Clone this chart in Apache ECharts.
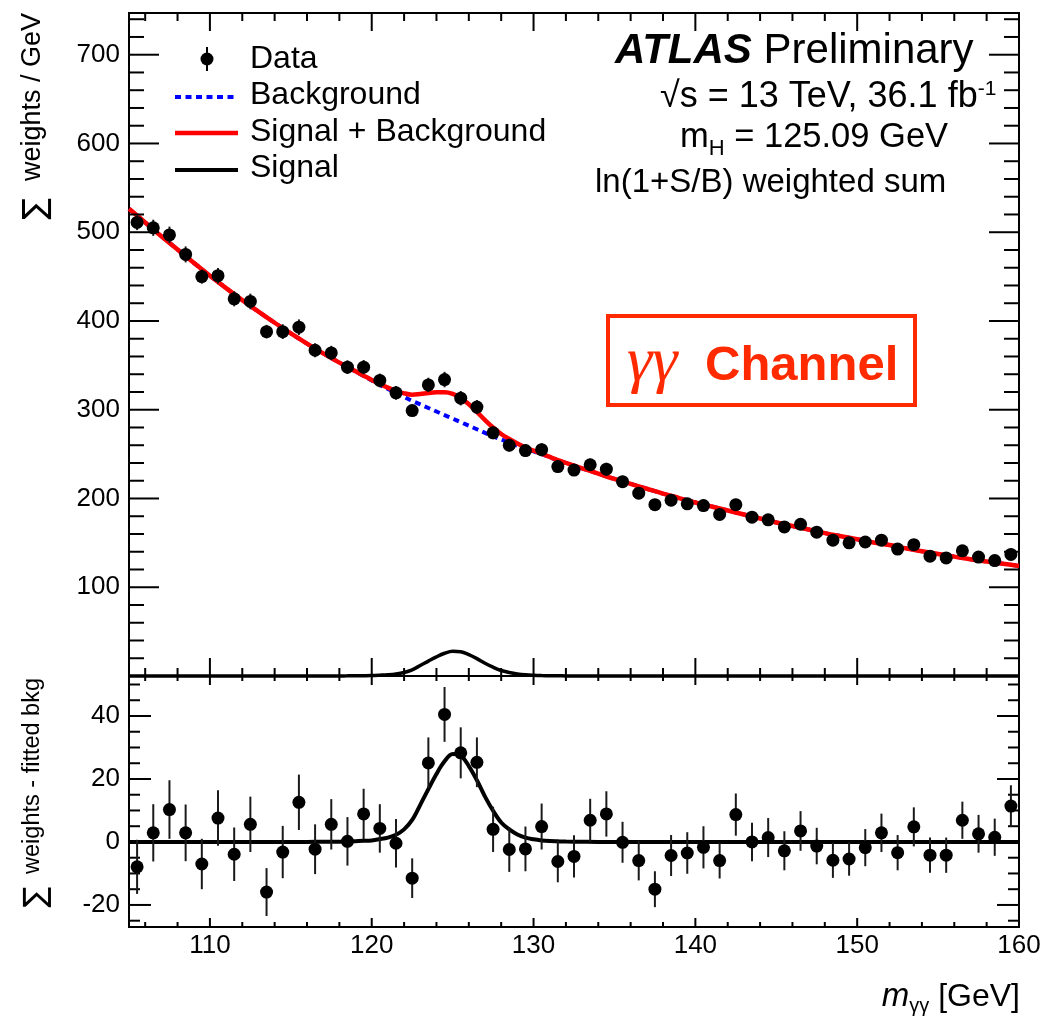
<!DOCTYPE html>
<html><head><meta charset="utf-8">
<script src="https://cdn.jsdelivr.net/npm/echarts@6/dist/echarts.min.js"></script>
<style>html,body{margin:0;padding:0;background:#fff}#c{width:1044px;height:1017px}</style>
</head><body><div id="c"></div><script>
// ---------------- data ----------------
const binCenters = [105.5,106.5,107.5,108.5,109.5,110.5,111.5,112.5,113.5,114.5,115.5,116.5,117.5,118.5,119.5,120.5,121.5,122.5,123.5,124.5,125.5,126.5,127.5,128.5,129.5,130.5,131.5,132.5,133.5,134.5,135.5,136.5,137.5,138.5,139.5,140.5,141.5,142.5,143.5,144.5,145.5,146.5,147.5,148.5,149.5,150.5,151.5,152.5,153.5,154.5,155.5,156.5,157.5,158.5,159.5];
const dataValues = [511,505,497,475,450,451,425,422,388,388,393,367,364,348,348,333,319,299,328,334,313,303,274,260,254,255,236,232,238,233,219,206,193,198,194,192,182,193,179,176,168,171,162,153,150,151,153,143,148,135,133,141,134,130,137];
const residuals = [-7.9,2.9,10.3,2.9,-7.0,7.6,-3.9,5.6,-15.9,-3.2,12.6,-2.3,5.6,0.2,8.9,4.3,-0.4,-11.5,25.1,40.5,28.3,25.3,4.0,-2.4,-2.2,4.9,-6.2,-4.6,6.9,8.9,-0.1,-5.9,-15.0,-4.3,-3.5,-1.7,-5.9,8.7,0.0,1.4,-2.8,3.5,-1.3,-5.8,-5.4,-1.8,2.9,-3.4,4.8,-4.2,-4.2,6.9,2.6,1.5,11.4];
const errors = [8.6,9.1,9.3,9.0,8.0,8.8,8.5,8.8,7.6,8.3,8.8,7.9,8.0,7.7,8.0,7.7,7.7,6.3,8.1,8.7,8.1,7.9,7.2,7.1,7.1,7.3,6.6,6.7,6.8,7.2,6.5,6.3,5.7,6.5,6.6,6.7,5.7,6.7,6.1,6.2,6.2,6.3,5.8,5.6,5.3,5.9,6.1,5.6,6.2,5.6,5.6,5.9,6.0,5.9,6.6];
const curveMass = [105,106,107,108,109,110,111,112,113,114,115,116,117,118,118.5,119,119.5,120,120.5,121,121.5,122,122.5,123,123.5,124,124.5,125,125.5,126,126.5,127,127.5,128,128.5,129,129.5,130,130.5,131,131.5,132,133,134,135,136,137,138,139,140,141,142,143,144,145,146,147,148,149,150,151,152,153,154,155,156,157,158,159,160];
const bkgCurve = [526.5,511,495.5,480.5,465.5,451,437,423.5,410.5,398,386,374.5,363.5,353,348,343,338,333,328,323.5,319,314.5,310,306,302,298,294,290,286,282,278,274,270,266.5,263,259.5,256,253,250,246.5,243,240,234,228,222,216.5,211,205.5,200.5,195.5,191,186.5,182,177.5,173,169,165,161,157.5,154,150.5,147.5,144,140.5,137.5,134.5,131.5,129,126.5,124];
const sigCurve = [0,0,0,0,0,0,0,0,0,0,0,0.02,0.05,0.1,0.15,0.25,0.35,0.5,0.9,1.4,2.3,4.0,7.0,11.8,16.8,21.6,25.6,27.9,27.4,24.1,19.6,14.4,9.9,6.2,4.0,2.4,1.4,0.85,0.5,0.3,0.2,0.12,0.05,0,0,0,0,0,0,0,0,0,0,0,0,0,0,0,0,0,0,0,0,0,0,0,0,0,0,0];
const xTickLabels = ['110','120','130','140','150','160'];
const yTopLabels = ['100','200','300','400','500','600','700'];
const yBotLabels = ['-20','0','20','40'];
const xMajorTicks = [110,120,130,140,150,160];
const xMinorTicks = [106,108,112,114,116,118,122,124,126,128,132,134,136,138,142,144,146,148,152,154,156,158];
const yTopMajorTicks = [100,200,300,400,500,600,700];
const yTopMinorTicks = [20,40,60,80,120,140,160,180,220,240,260,280,320,340,360,380,420,440,460,480,520,540,560,580,620,640,660,680,720,740];
const yBotMajorTicks = [-20,0,20,40];
const yBotMinorTicks = [-25,-15,-10,-5,5,10,15,25,30,35,45,50];

// ---------------- helpers ----------------
const FF = '"Liberation Sans", Arial, Helvetica, sans-serif';
const SERIF = '"Liberation Serif", "Times New Roman", serif';
const mctx = document.createElement('canvas').getContext('2d');
function midOff(font){ mctx.font = font; mctx.textBaseline = 'middle'; const m = mctx.measureText('H'); return (m && typeof m.actualBoundingBoxDescent === 'number') ? m.actualBoundingBoxDescent : 0.33 * parseFloat(font.match(/(\d+(\.\d+)?)px/)[1]); }
function tw(text, font){ mctx.font = font; return mctx.measureText(text).width; }
function txt(x, baseline, text, font, align, color, z){
  align = align || 'left';
  return {type:'text', x:x, y:baseline - midOff(font), z:z||100, silent:true,
    style:{text:text, font:font, fill:color||'#000', align:align, textAlign:align, verticalAlign:'middle', textVerticalAlign:'middle'}};
}
function seq(x0, baseline, pieces, color){
  const out = []; let x = x0;
  pieces.forEach(p => { out.push(txt(x, baseline + (p.dy||0), p.t, p.font, 'left', color)); x += tw(p.t, p.font); });
  return out;
}
function seqWidth(pieces){ return pieces.reduce((s,p)=>s+tw(p.t,p.font),0); }
function rotTxt(x, yEnd, text, font){
  return {type:'text', x:x, y:yEnd, rotation:Math.PI/2, z:100, silent:true,
    style:{text:text, font:font, fill:'#000', align:'right', textAlign:'right', verticalAlign:'middle', textVerticalAlign:'middle'}};
}

function tickSeries(gi, kind, values, len){
  return {type:'custom', xAxisIndex:gi, yAxisIndex:gi, silent:true, clip:false, z:6,
    data: values.map(v=>[v]),
    renderItem: function(params, api){
      const cs = params.coordSys; const v = api.value(0);
      const st = {stroke:'#000', lineWidth:2};
      if (kind === 'x'){
        const px = api.coord([v, 0])[0];
        return {type:'group', children:[
          {type:'line', shape:{x1:px, y1:cs.y+cs.height, x2:px, y2:cs.y+cs.height-len}, style:st},
          {type:'line', shape:{x1:px, y1:cs.y, x2:px, y2:cs.y+len}, style:st}]};
      } else {
        const py = api.coord([130, v])[1];
        return {type:'group', children:[
          {type:'line', shape:{x1:cs.x, y1:py, x2:cs.x+len, y2:py}, style:st},
          {type:'line', shape:{x1:cs.x+cs.width, y1:py, x2:cs.x+cs.width-len, y2:py}, style:st}]};
      }
    }};
}
function errSeries(gi, vals){
  return {type:'custom', xAxisIndex:gi, yAxisIndex:gi, silent:true, z:8,
    data: binCenters.map((x,i)=>[x, vals[i], errors[i]]),
    encode:{x:0, y:1},
    renderItem: function(params, api){
      const x = api.value(0), v = api.value(1), e = api.value(2);
      const p1 = api.coord([x, v-e]), p2 = api.coord([x, v+e]);
      return {type:'line', shape:{x1:p1[0], y1:p1[1], x2:p2[0], y2:p2[1]}, style:{stroke:'#1a1a1a', lineWidth:2}};
    }};
}

const sbCurve = bkgCurve.map((b,i)=>b + sigCurve[i]);
const pairs = (xs, ys) => xs.map((x,i)=>[x, ys[i]]);

const axisCommon = {type:'value', axisLine:{show:false}, axisTick:{show:false}, splitLine:{show:false}};
const labelStyle = {fontSize:26, color:'#000', fontFamily:FF};

// ---------------- graphics (texts, legend, box) ----------------
const g = [];
g.push({type:'line', z:100, shape:{x1:207, y1:47, x2:207, y2:71}, style:{stroke:'#000', lineWidth:2}});
g.push({type:'circle', z:100, shape:{cx:207, cy:59, r:6.5}, style:{fill:'#000'}});
g.push({type:'line', z:100, shape:{x1:175, y1:97, x2:238, y2:97}, style:{stroke:'#0000ff', lineWidth:4, lineDash:[6,4.5]}});
g.push({type:'line', z:100, shape:{x1:175, y1:133, x2:238, y2:133}, style:{stroke:'#ff0000', lineWidth:4.5}});
g.push({type:'line', z:100, shape:{x1:175, y1:170, x2:238, y2:170}, style:{stroke:'#000', lineWidth:4}});
const LF = '32px ' + FF;
g.push(txt(250, 68, 'Data', LF));
g.push(txt(250, 104, 'Background', LF));
g.push(txt(250, 141, 'Signal + Background', LF));
g.push(txt(250, 177, 'Signal', LF));
g.push(...seq(615, 63, [{t:'ATLAS', font:'italic bold 42px '+FF}, {t:' Preliminary', font:'42px '+FF}]));
g.push(...seq(660, 107, [{t:'\u221As = 13 TeV, 36.1 fb', font:'36px '+FF}, {t:'-1', font:'21px '+FF, dy:-12}]));
g.push(...seq(680, 147, [{t:'m', font:'34.5px '+FF}, {t:'H', font:'22px '+FF, dy:8}, {t:' = 125.09 GeV', font:'34.5px '+FF}]));
g.push(txt(595, 192, 'ln(1+S/B) weighted sum', '33px ' + FF));
g.push({type:'rect', z:100, shape:{x:608, y:316, width:307, height:89}, style:{fill:'none', stroke:'#ff2a00', lineWidth:4}});
g.push(txt(627, 380, '\u03B3\u03B3', 'italic 64px ' + SERIF, 'left', '#ff2a00'));
g.push(txt(705, 380, 'Channel', 'bold 49px ' + FF, 'left', '#ff2a00'));
const xt = [{t:'m', font:'italic 33px '+FF}, {t:'\u03B3\u03B3', font:'20px '+FF, dy:6}, {t:' [GeV]', font:'32px '+FF}];
g.push(...seq(1020 - seqWidth(xt), 1006, xt));
g.push(rotTxt(33, 13, 'weights / GeV', '27px ' + FF));
g.push({type:'text', x:37, y:209, rotation:Math.PI/2, z:100, silent:true, style:{text:'\u2211', font:'32px "DejaVu Sans"', fill:'#000', align:'center', textAlign:'center', verticalAlign:'middle', textVerticalAlign:'middle'}});
g.push(rotTxt(33, 678, 'weights - fitted bkg', '23.5px ' + FF));
g.push({type:'text', x:37, y:897, rotation:Math.PI/2, z:100, silent:true, style:{text:'\u2211', font:'31px "DejaVu Sans"', fill:'#000', align:'center', textAlign:'center', verticalAlign:'middle', textVerticalAlign:'middle'}});

// ---------------- chart ----------------
const chart = echarts.init(document.getElementById('c'), null, {renderer:'canvas'});
const lbl = arr => (v => { const s = String(Math.round(v)); return (Math.abs(v-Math.round(v))<1e-6 && arr.includes(s)) ? s : ''; });
chart.setOption({
  animation:false,
  backgroundColor:'#fff',
  textStyle:{fontFamily:FF},
  grid:[
    {left:129, top:13, width:890, height:663, show:true, borderColor:'#000', borderWidth:2, backgroundColor:'transparent'},
    {left:129, top:676, width:890, height:251, show:true, borderColor:'#000', borderWidth:2, backgroundColor:'transparent'}
  ],
  xAxis:[
    Object.assign({}, axisCommon, {gridIndex:0, min:105, max:160, interval:5, axisLabel:{show:false}}),
    Object.assign({}, axisCommon, {gridIndex:1, min:105, max:160, interval:5,
      axisLabel:Object.assign({show:true, margin:6, showMinLabel:true, showMaxLabel:true, formatter:lbl(xTickLabels)}, labelStyle)})
  ],
  yAxis:[
    Object.assign({}, axisCommon, {gridIndex:0, min:0, max:747, interval:100,
      axisLabel:Object.assign({margin:9, formatter:lbl(yTopLabels)}, labelStyle)}),
    Object.assign({}, axisCommon, {gridIndex:1, min:-27, max:52.7, interval:1,
      axisLabel:Object.assign({margin:9, formatter:lbl(yBotLabels)}, labelStyle)})
  ],
  graphic:{elements:g},
  series:[
    tickSeries(0,'x',xMajorTicks,18), tickSeries(0,'x',xMinorTicks,8),
    tickSeries(0,'y',yTopMajorTicks,30), tickSeries(0,'y',yTopMinorTicks,15),
    tickSeries(1,'x',xMajorTicks,9), tickSeries(1,'x',xMinorTicks,5),
    tickSeries(1,'y',yBotMajorTicks,22), tickSeries(1,'y',yBotMinorTicks,11),
    {type:'line', xAxisIndex:0, yAxisIndex:0, data:pairs(curveMass,bkgCurve), showSymbol:false, smooth:0.35, silent:true, z:3,
      lineStyle:{color:'#0000ff', width:4, type:[6,4.5]}},
    {type:'line', xAxisIndex:0, yAxisIndex:0, data:pairs(curveMass,sbCurve), showSymbol:false, smooth:0.35, silent:true, z:4,
      lineStyle:{color:'#ff0000', width:4.5}},
    {type:'line', xAxisIndex:0, yAxisIndex:0, data:pairs(curveMass,sigCurve), showSymbol:false, smooth:0.35, silent:true, z:4, clip:false,
      lineStyle:{color:'#000', width:3.5}},
    errSeries(0, dataValues),
    {type:'scatter', xAxisIndex:0, yAxisIndex:0, data:pairs(binCenters,dataValues), symbol:'circle', symbolSize:13, itemStyle:{color:'#000', opacity:1}, silent:true, z:9},
    {type:'line', xAxisIndex:1, yAxisIndex:1, data:pairs(curveMass,sigCurve), showSymbol:false, smooth:0.35, silent:true, z:4,
      lineStyle:{color:'#000', width:4}},
    errSeries(1, residuals),
    {type:'scatter', xAxisIndex:1, yAxisIndex:1, data:pairs(binCenters,residuals), symbol:'circle', symbolSize:13, itemStyle:{color:'#000', opacity:1}, silent:true, z:9}
  ]
});
</script></body></html>
